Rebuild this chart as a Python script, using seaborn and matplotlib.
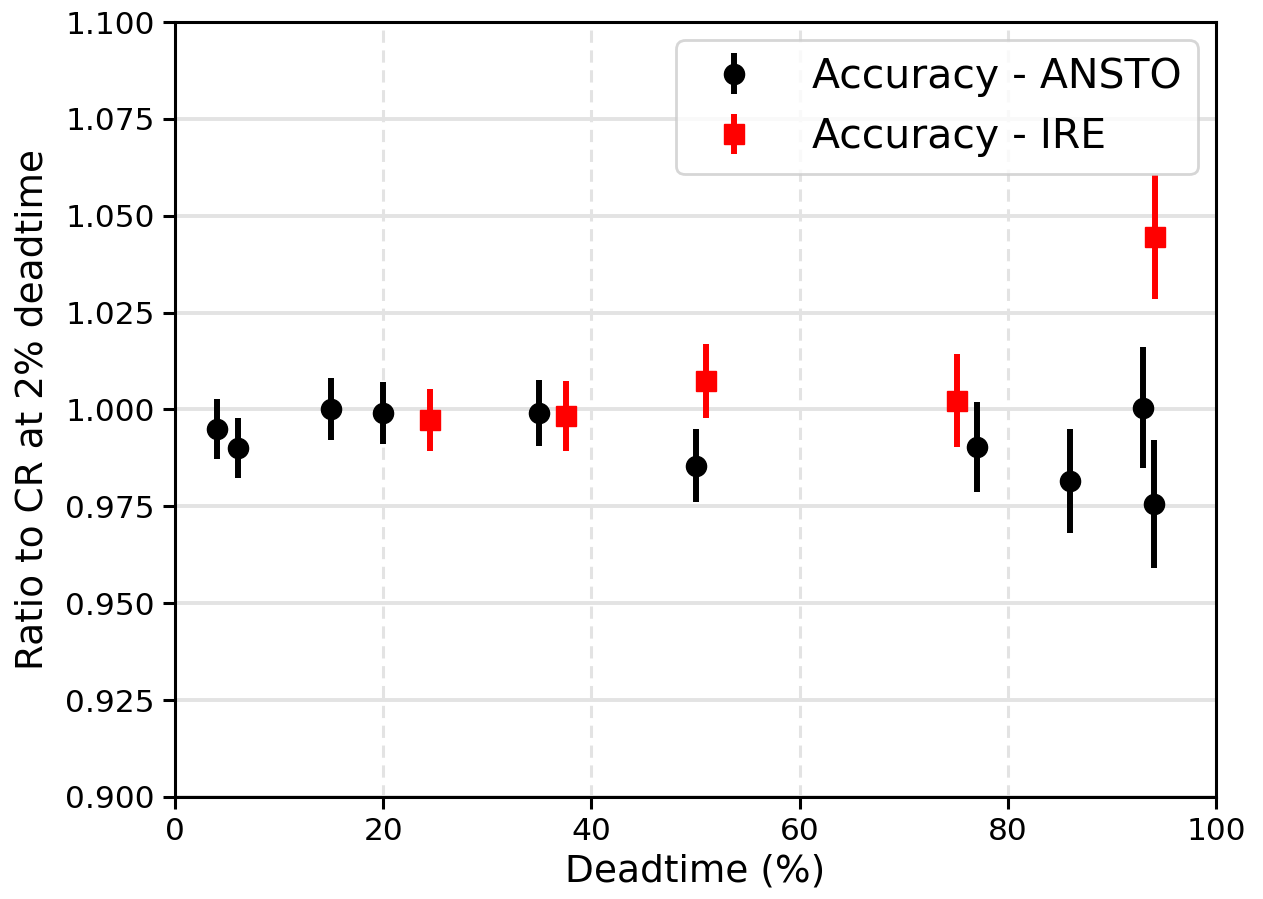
import matplotlib
matplotlib.use("Agg")
import matplotlib.pyplot as plt
import numpy as np
import pandas as pd
import seaborn as sns

# %% DATOS
ansto_deadtime = [4, 6, 15, 20, 35, 50, 77, 86, 93, 94]
ansto_ratio = [0.995, 0.990, 1.000, 0.999, 0.999, 0.9855, 0.9903, 0.9816, 1.0004, 0.9756]
ansto_err = [0.0077, 0.0077, 0.008, 0.008, 0.0085, 0.0095, 0.0117, 0.0134, 0.0156, 0.0164]

ire_deadtime = [24.5, 37.6, 51.0, 75.1, 94.1]
ire_ratio = [0.9973, 0.9984, 1.0074, 1.0022, 1.0445]
ire_err = [0.0081, 0.009, 0.0095, 0.012, 0.016]

x_ticks = [0, 20, 40, 60, 80, 100]
y_ticks = [0.900, 0.925, 0.950, 0.975, 1.000, 1.025, 1.050, 1.075, 1.100]

ansto = pd.DataFrame({"deadtime": ansto_deadtime, "ratio": ansto_ratio, "err": ansto_err})
ire = pd.DataFrame({"deadtime": ire_deadtime, "ratio": ire_ratio, "err": ire_err})

# %% GRAFICO
sns.set_theme(style="white")
plt.rcParams['font.family'] = ['DejaVu Sans']
plt.rcParams['text.color'] = 'black'
plt.rcParams['axes.labelcolor'] = 'black'

fig, ax = plt.subplots(figsize=(12.63, 8.99), dpi=100)
fig.subplots_adjust(left=0.1386, right=0.9628, top=0.9755, bottom=0.1135)

ax.errorbar(ansto["deadtime"], ansto["ratio"], yerr=ansto["err"], fmt="o",
            color="black", markersize=14.5, elinewidth=4.3, capsize=0,
            label="Accuracy - ANSTO", zorder=3)
ax.errorbar(ire["deadtime"], ire["ratio"], yerr=ire["err"], fmt="s",
            color="#ff0000", markersize=15, elinewidth=4.3, capsize=0,
            label="Accuracy - IRE", zorder=3)

ax.set_xlim(0, 100)
ax.set_ylim(0.9, 1.1)
ax.set_xticks(x_ticks)
ax.set_yticks(y_ticks)
ax.set_yticklabels([f"{v:.3f}" for v in y_ticks])

ax.grid(axis="y", color="#e3e3e3", linewidth=2.8, linestyle="-", zorder=0)
ax.grid(axis="x", color="#e3e3e3", linewidth=2.2, linestyle=(0, (4, 2.5)), zorder=0)
ax.set_axisbelow(True)

for s in ax.spines.values():
    s.set_color("black")
    s.set_linewidth(2.2)
ax.tick_params(axis="both", which="major", direction="out", length=8.5, width=2.2,
               color="black", labelsize=22.5, labelcolor="black", bottom=True, left=True,
               pad=6)

ax.set_xlabel("Deadtime (%)", fontsize=27, color="black", labelpad=5)
ax.set_ylabel("Ratio to CR at 2% deadtime", fontsize=27, color="black", labelpad=11)

leg = ax.legend(loc="upper right", fontsize=29.5, frameon=True, framealpha=0.8,
                borderaxespad=0.45, handletextpad=0.9, borderpad=0.4,
                labelspacing=0.5)
leg.get_frame().set_edgecolor("#cccccc")
leg.get_frame().set_linewidth(2)

fig.savefig("out.png", dpi=100)
